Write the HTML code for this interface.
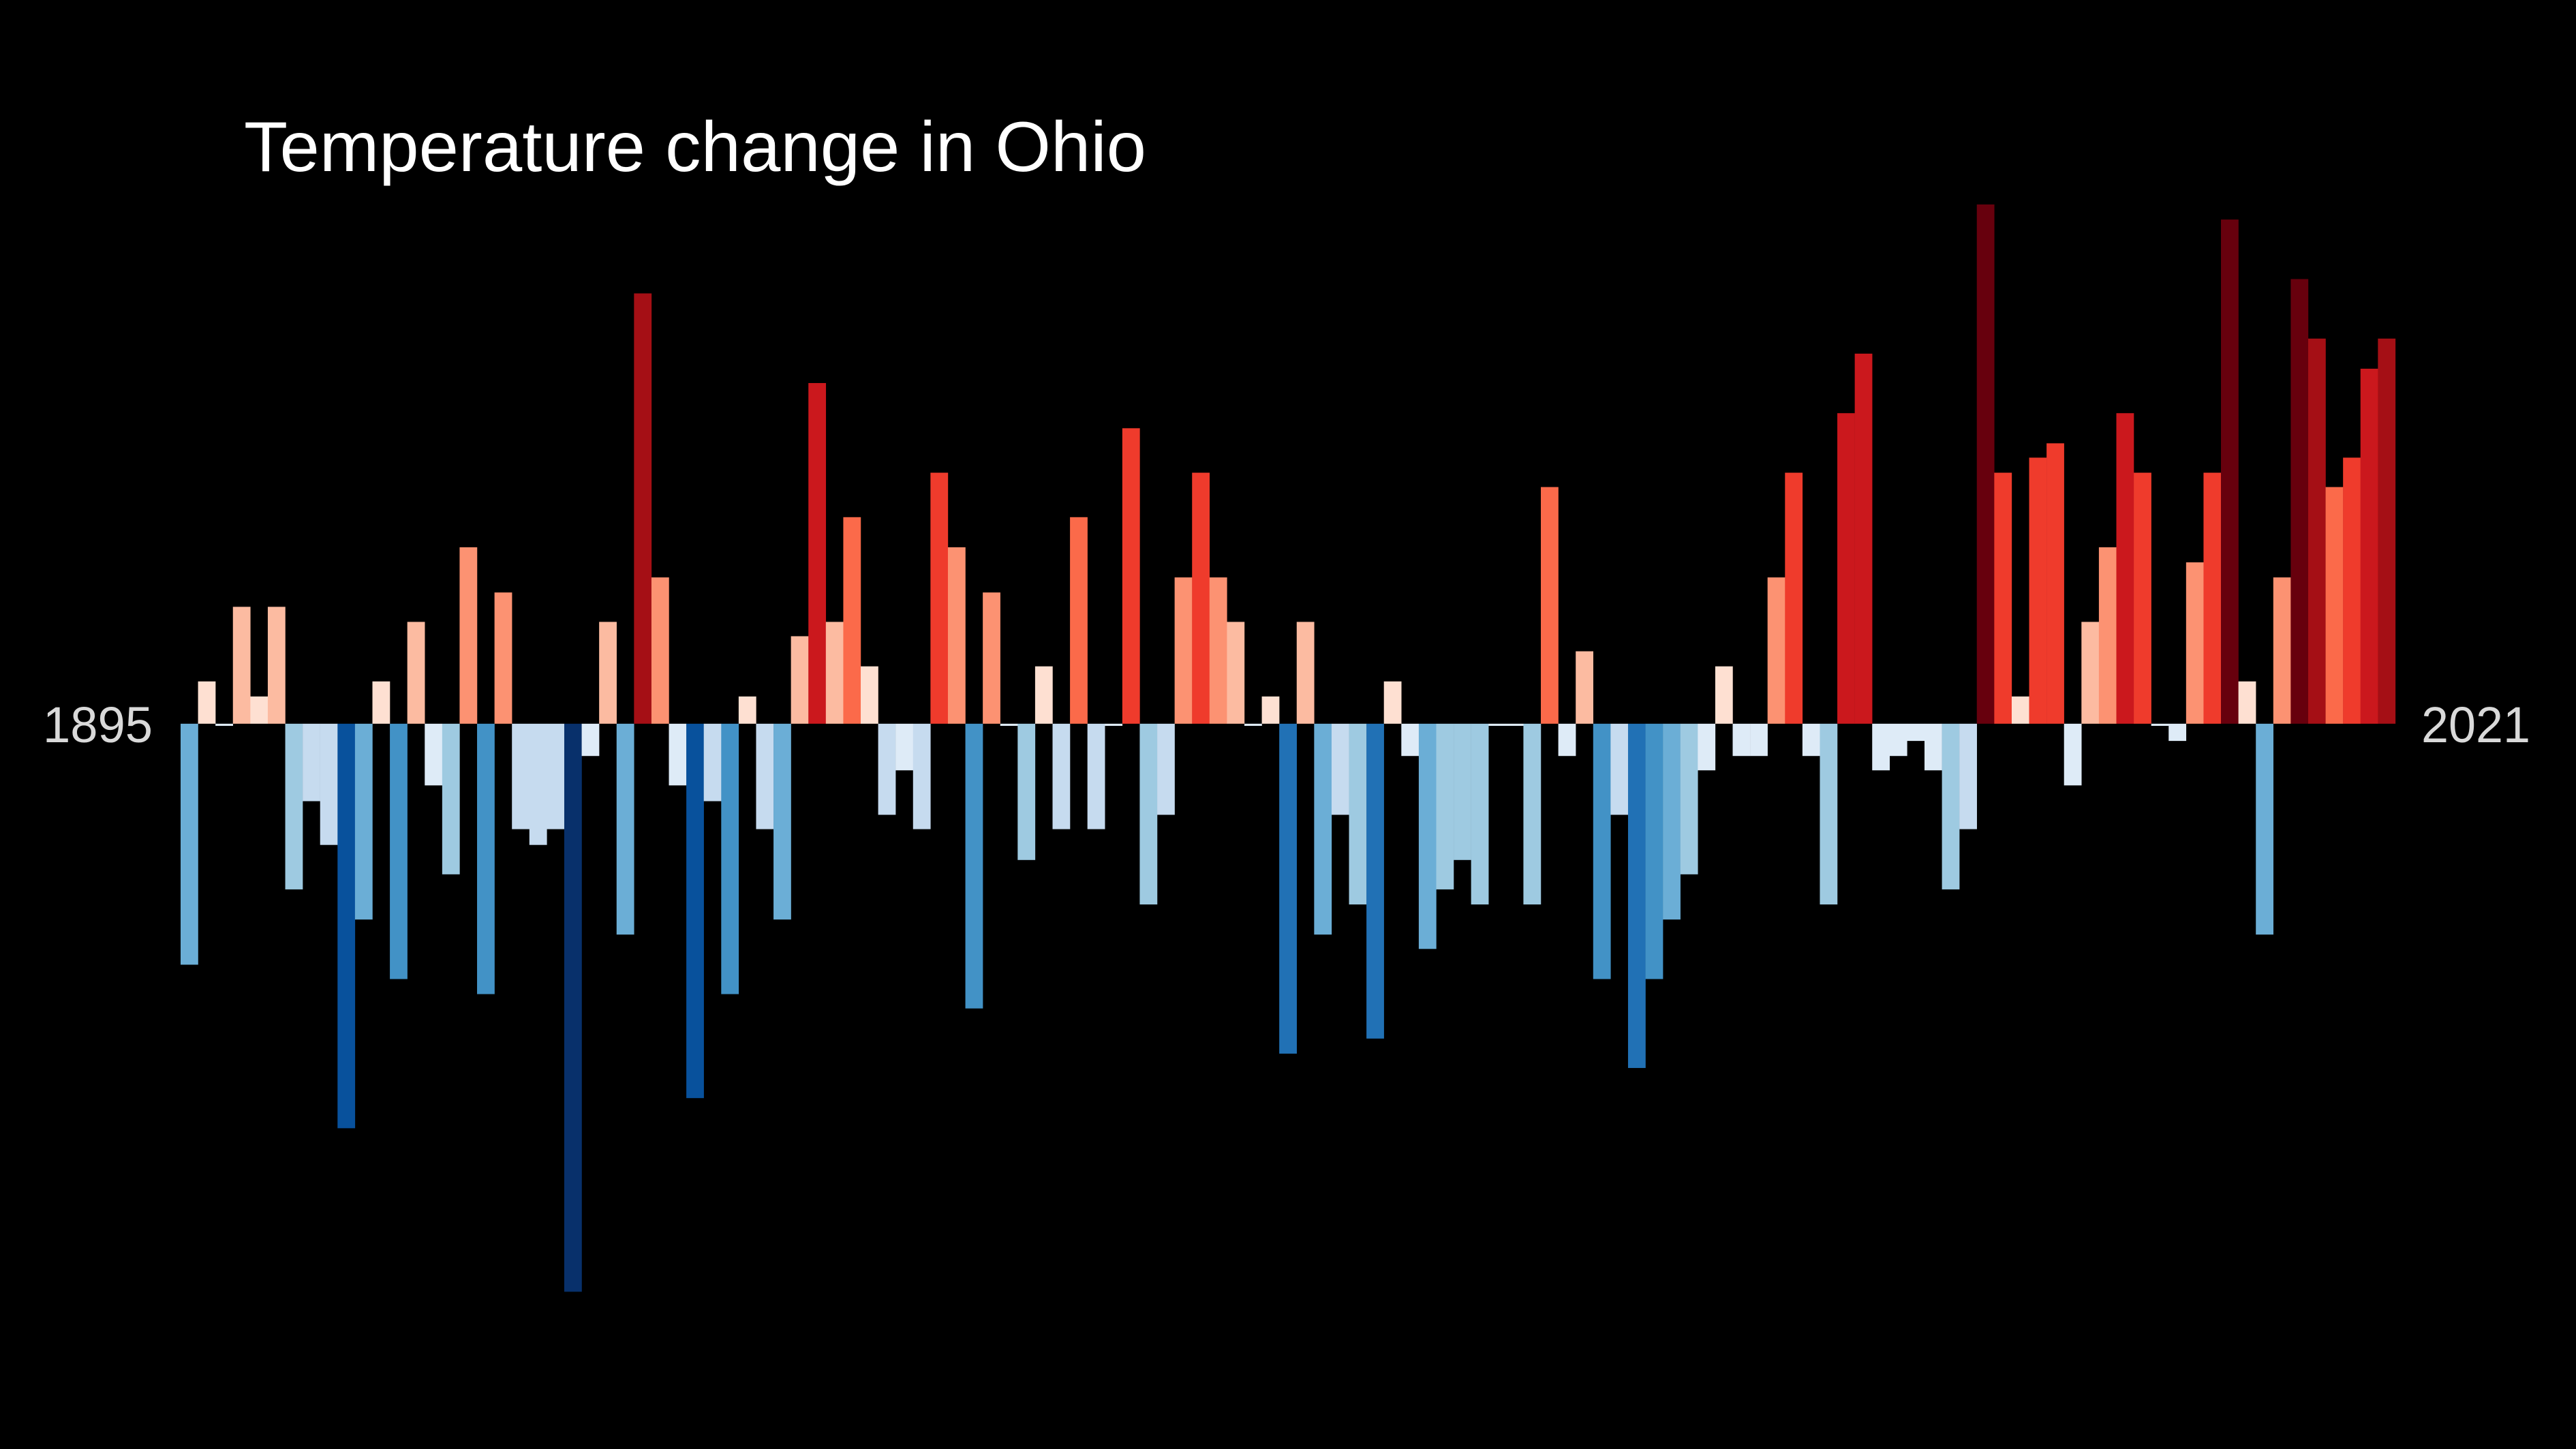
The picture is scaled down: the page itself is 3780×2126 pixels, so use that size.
<!DOCTYPE html>
<html><head><meta charset="utf-8"><style>
html,body{margin:0;padding:0;background:#000;}
svg{display:block;}
</style></head><body>
<svg id="c" width="3780" height="2126" viewBox="0 0 3780 2126" xmlns="http://www.w3.org/2000/svg">
<rect width="3780" height="2126" fill="#000"/>
<text x="358" y="251" font-family="Liberation Sans, sans-serif" font-size="104" fill="#ffffff" textLength="1324" lengthAdjust="spacingAndGlyphs">Temperature change in Ohio</text>
<text x="63" y="1089" font-family="Liberation Sans, sans-serif" font-size="74" fill="#d9d9d9" textLength="161" lengthAdjust="spacingAndGlyphs">1895</text>
<text x="3553" y="1089" font-family="Liberation Sans, sans-serif" font-size="74" fill="#d9d9d9" textLength="160" lengthAdjust="spacingAndGlyphs">2021</text>
<g id="bars" transform="translate(0,280) scale(1,1.0523)"></g>
</svg>
<script>
(function(){
var v=[1079,684,746,580,705,580,974,851,912,1307,1016,684,1099,601,829,953,497,1120,560,890,912,890,1535,788,601,1037,143,539,829,1265,851,1120,705,890,1016,621,268,601,455,663,870,808,890,393,497,1140,560,746,933,663,890,455,890,746,331,995,870,539,393,539,601,746,705,1203,601,1037,870,995,1182,684,788,1057,974,933,995,746,746,995,413,788,642,1099,870,1223,1099,1016,953,808,663,788,788,539,393,788,995,310,227,808,788,767,808,974,890,19,393,705,372,352,829,601,497,310,393,746,767,518,393,40,684,1037,539,123,206,413,372,248,206];
var B=743,g=document.getElementById('bars'),s='';
function col(d){
 if(d>0){ if(d<=80)return'#fee0d2'; if(d<=165)return'#fcbba1'; if(d<=250)return'#fc9272'; if(d<=340)return'#fb6a4a'; if(d<=420)return'#ef3b2c'; if(d<=525)return'#cb181d'; if(d<=610)return'#a50f15'; return'#67000d';}
 d=-d; if(d<=90)return'#deebf7'; if(d<=175)return'#c6dbef'; if(d<=260)return'#9ecae1'; if(d<=340)return'#6baed6'; if(d<=420)return'#4292c6'; if(d<=500)return'#2171b5'; if(d<=700)return'#08519c'; return'#08306b';
}
for(var i=0;i<v.length;i++){
 var x=265+25.59*i, y=v[i], d=B-y, ty=Math.min(y,B), h=Math.abs(d);
 if(h<3){h=2;ty=B;d=-2;}
 s+='<rect x="'+x.toFixed(2)+'" y="'+ty+'" width="25.8" height="'+h+'" fill="'+col(d)+'"/>';
}
g.innerHTML=s;
})();
</script>
</body></html>
